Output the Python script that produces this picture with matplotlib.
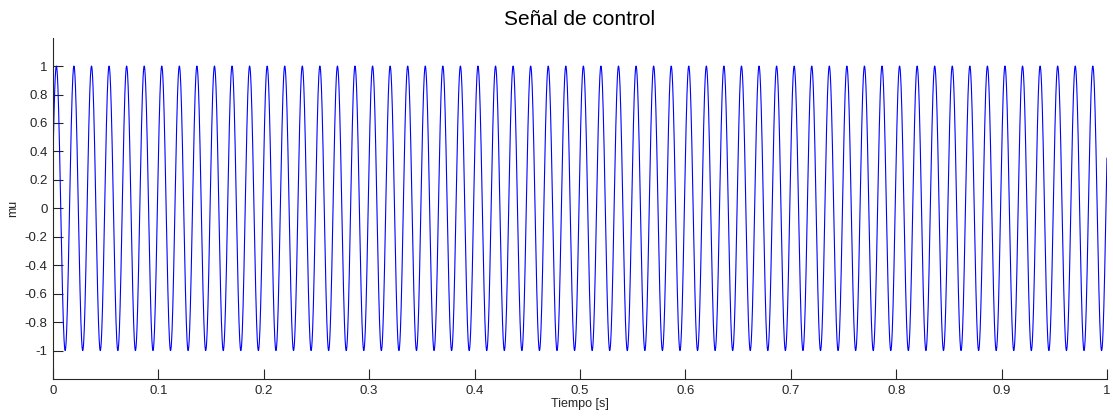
import numpy as np
import matplotlib
matplotlib.use("Agg")
import matplotlib.pyplot as plt
from matplotlib.ticker import FormatStrFormatter

# Signal parameters: a 60 Hz sinusoid, amplitude 1,
# starting near +0.35 and rising.
t_start = 0.0
t_end = 1.0
freq_hz = 60.0
amplitude = 1.0
phase_rad = 0.36
n_samples = 6001

x_ticks = [0, 0.1, 0.2, 0.3, 0.4, 0.5, 0.6, 0.7, 0.8, 0.9, 1]
y_ticks = [-1, -0.8, -0.6, -0.4, -0.2, 0, 0.2, 0.4, 0.6, 0.8, 1]

t = np.linspace(t_start, t_end, n_samples)
mu = amplitude * np.sin(2 * np.pi * freq_hz * t + phase_rad)

plt.rcParams['font.family'] = ['Liberation Sans', 'DejaVu Sans']
plt.rcParams['axes.unicode_minus'] = False

gray = '#262626'
fig = plt.figure(figsize=(11.13, 4.17), dpi=100)
ax = fig.add_axes([0.0476, 0.0911, 0.9470, 0.8187])
ax.plot(t, mu, color=(0, 0, 1), lw=0.8)

ax.set_xlim(0, 1)
ax.set_ylim(-1.2, 1.2)
ax.set_xticks(x_ticks)
ax.set_yticks(y_ticks)
ax.xaxis.set_major_formatter(FormatStrFormatter('%g'))
ax.yaxis.set_major_formatter(FormatStrFormatter('%g'))
ax.tick_params(direction='in', length=7, width=0.8, labelsize=9.5,
               color=gray, labelcolor=gray, pad=4)
ax.spines['top'].set_visible(False)
ax.spines['right'].set_visible(False)
for s in ('left', 'bottom'):
    ax.spines[s].set_linewidth(0.8)
    ax.spines[s].set_color(gray)

ax.set_title('Señal de control', fontsize=15, pad=9)
ax.set_xlabel('Tiempo [s]', fontsize=9, labelpad=1, color=gray)
ax.set_ylabel('mu', fontsize=9, labelpad=4, color=gray)

fig.savefig('out.png', dpi=100, facecolor='white')
